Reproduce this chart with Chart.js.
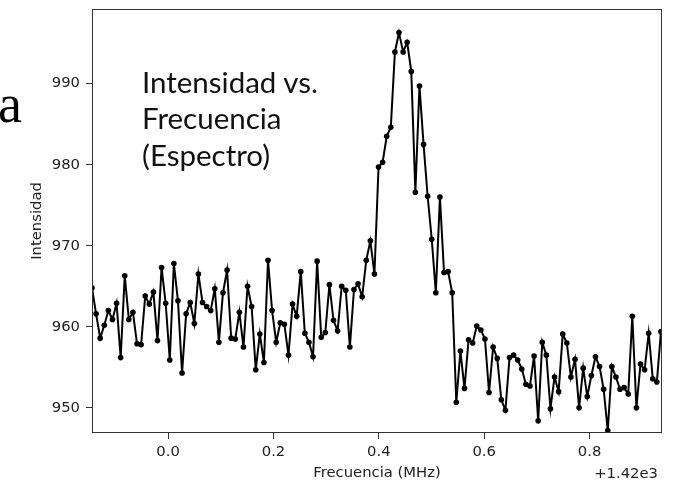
<!DOCTYPE html>
<html lang="es">
<head>
<meta charset="utf-8">
<title>Intensidad vs. Frecuencia</title>
<script src="https://cdn.jsdelivr.net/npm/chart.js@4.4.1/dist/chart.umd.min.js"></script>
<style>
  body { margin: 0; background: #fff; }
  #wrap { position: relative; width: 679px; height: 482px; overflow: hidden; }
  #grafico { position: absolute; left: 0; top: 0; }
  .letra {
    position: absolute; left: -2px; top: 77px;
    font-family: "Liberation Serif", serif; font-size: 54px; line-height: 54px;
    color: #000;
  }
  .nota {
    position: absolute; left: 142px; top: 63.5px;
    font-family: Lato, "Open Sans", sans-serif; font-size: 29.5px; line-height: 36.7px;
    color: #111; white-space: nowrap;
  }
  .offset {
    position: absolute; right: 21px; top: 466px;
    font-family: "DejaVu Sans", sans-serif; font-size: 14.8px; line-height: 14.8px;
    color: #222;
  }
</style>
</head>
<body>
<div id="wrap">
  <canvas id="grafico" width="679" height="482"></canvas>
  <div class="letra">a</div>
  <div class="nota">Intensidad vs.<br>Frecuencia<br>(Espectro)</div>
  <div class="offset">+1.42e3</div>
</div>
<script>
// ---------------------------------------------
//  Datos del espectro
// ---------------------------------------------

// eje X: canales equiespaciados, en MHz relativos a 1420 MHz
const freqInicio = -0.1445;
const freqPaso   = 0.00777;

// intensidad de cada canal
const intensidad = [
  964.8, 961.6, 958.6, 960.2, 962.0, 960.9, 962.9, 956.2, 966.3, 960.9,
  961.8, 957.9, 957.8, 963.8, 962.8, 964.3, 958.3, 967.3, 962.9, 955.9,
  967.8, 963.2, 954.3, 961.6, 963.0, 960.4, 966.5, 963.0, 962.5, 962.0,
  964.7, 958.1, 964.2, 967.0, 958.6, 958.5, 961.8, 957.5, 965.0, 962.5,
  954.7, 959.1, 955.6, 968.2, 962.0, 958.1, 960.5, 960.3, 956.5, 962.8,
  961.3, 966.8, 959.2, 958.1, 956.3, 968.1, 958.7, 959.3, 965.2, 960.8,
  959.5, 965.0, 964.5, 957.5, 964.6, 965.3, 963.7, 968.2, 970.6, 966.5,
  979.7, 980.3, 983.5, 984.6, 993.9, 996.3, 993.9, 995.1, 991.5, 976.6,
  989.7, 982.5, 976.1, 970.8, 964.2, 976.0, 966.7, 966.8, 964.2, 950.7,
  957.0, 952.4, 958.4, 958.0, 960.1, 959.6, 958.5, 951.9, 957.5, 956.1,
  951.0, 949.7, 956.2, 956.5, 955.9, 954.8, 952.9, 952.7, 956.4, 948.4,
  958.1, 956.5, 949.9, 953.8, 952.0, 959.1, 958.0, 953.8, 956.0, 950.0,
  954.9, 951.4, 954.0, 956.3, 955.1, 952.3, 947.2, 955.1, 953.8, 952.3,
  952.5, 951.7, 961.3, 950.0, 955.4, 954.7, 959.2, 953.6, 953.2, 959.4
];

// marcas de los ejes
const ticksX = [0.0, 0.2, 0.4, 0.6, 0.8];
const ticksY = [950, 960, 970, 980, 990];

// límites de los ejes
const limX = [-0.1445, 0.9375];
const limY = [946.9, 999.2];

// arma los puntos {x, y}
const puntos = intensidad.map((v, i) => ({ x: freqInicio + i * freqPaso, y: v }));

// marco completo alrededor del área del gráfico
const marco = {
  id: 'marco',
  afterDraw(chart) {
    const { ctx, chartArea: a } = chart;
    ctx.save();
    ctx.strokeStyle = '#333';
    ctx.lineWidth = 1;
    ctx.strokeRect(Math.round(a.left) + 0.5, Math.round(a.top) + 0.5,
                   Math.round(a.right - a.left) - 1, Math.round(a.bottom - a.top) - 1);
    ctx.restore();
  }
};

// quita el relleno automático que Chart.js agrega por las etiquetas
function sinRelleno(s) {
  s.paddingTop = 0; s.paddingBottom = 0;
  s.paddingLeft = 0; s.paddingRight = 0;
}

const fuenteTicks = { family: 'DejaVu Sans', size: 14.8 };

new Chart(document.getElementById('grafico'), {
  type: 'line',
  data: {
    datasets: [{
      data: puntos,
      borderColor: '#000',
      borderWidth: 2,
      pointRadius: 2.8,
      pointBackgroundColor: '#000',
      pointBorderWidth: 0,
      tension: 0
    }]
  },
  options: {
    responsive: false,
    animation: false,
    layout: { padding: { top: 9, right: 17, left: 0, bottom: 0 } },
    plugins: { legend: { display: false }, tooltip: { enabled: false } },
    scales: {
      x: {
        type: 'linear',
        min: limX[0],
        max: limX[1],
        afterBuildTicks: s => { s.ticks = ticksX.map(v => ({ value: v })); },
        afterFit: s => { s.height = 49; sinRelleno(s); },
        grid: { drawOnChartArea: false, tickLength: 6, color: '#333' },
        border: { display: false },
        ticks: {
          color: '#222', font: fuenteTicks, padding: 4, maxRotation: 0,
          callback: v => v.toFixed(1)
        },
        title: {
          display: true, text: 'Frecuencia (MHz)', color: '#222',
          font: { family: 'DejaVu Sans', size: 14.8, lineHeight: 1 },
          padding: { top: 0, bottom: 1.7 }
        }
      },
      y: {
        min: limY[0],
        max: limY[1],
        afterBuildTicks: s => { s.ticks = ticksY.map(v => ({ value: v })); },
        afterFit: s => { s.width = 92; sinRelleno(s); },
        grid: { drawOnChartArea: false, tickLength: 6, color: '#333' },
        border: { display: false },
        ticks: {
          color: '#222', font: fuenteTicks, padding: 6,
          callback: v => String(v)
        },
        title: {
          display: true, text: 'Intensidad', color: '#222',
          font: { family: 'DejaVu Sans', size: 14.8, lineHeight: 1 },
          padding: { top: 29.3, bottom: 0 }
        }
      }
    }
  },
  plugins: [marco]
});
</script>
</body>
</html>
